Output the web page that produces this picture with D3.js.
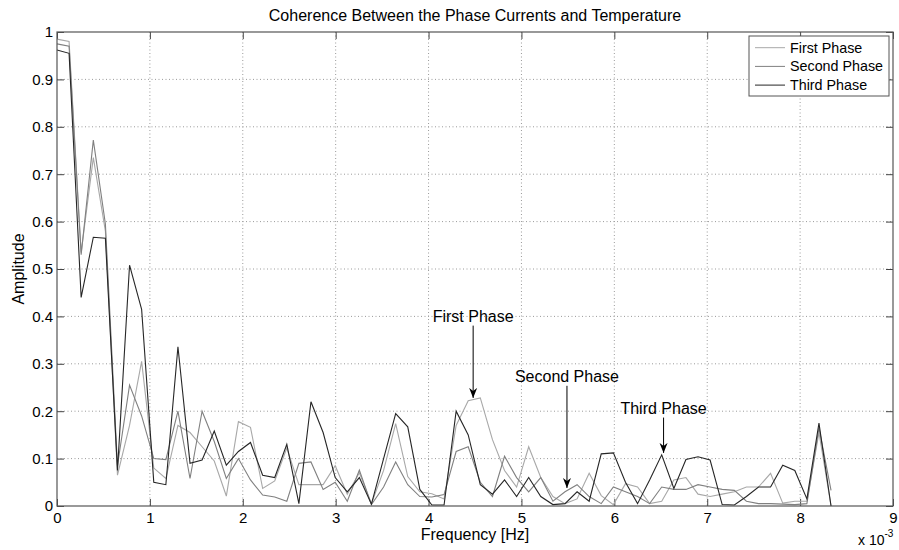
<!DOCTYPE html>
<html>
<head>
<meta charset="utf-8">
<script src="https://cdn.jsdelivr.net/npm/d3@7"></script>
<style>
    body { margin: 0; background: #fff; }
    svg { display: block; font-family: "Liberation Sans", Arial, sans-serif; }
</style>
</head>
<body>
<div id="chart"></div>
<script>
// frequency grid, in units of 1e-3 Hz
const freq = [0, 0.130, 0.260, 0.391, 0.521, 0.651, 0.781, 0.911, 1.042, 1.172,
    1.302, 1.432, 1.562, 1.693, 1.823, 1.953, 2.083, 2.214, 2.344, 2.474,
    2.604, 2.734, 2.865, 2.995, 3.125, 3.255, 3.385, 3.516, 3.646, 3.776,
    3.906, 4.036, 4.167, 4.297, 4.427, 4.557, 4.688, 4.818, 4.948, 5.078,
    5.208, 5.339, 5.469, 5.599, 5.729, 5.859, 5.990, 6.120, 6.250, 6.380,
    6.510, 6.641, 6.771, 6.901, 7.031, 7.161, 7.292, 7.422, 7.552, 7.682,
    7.813, 7.943, 8.073, 8.203, 8.333];

const firstPhase = [0.985, 0.98, 0.535, 0.735, 0.58, 0.065, 0.17, 0.305, 0.08, 0.058,
    0.17, 0.155, 0.125, 0.095, 0.021, 0.178, 0.166, 0.037, 0.053, 0.122,
    0.045, 0.045, 0.045, 0.085, 0.025, 0.07, 0.005, 0.075, 0.174, 0.062,
    0.03, 0.026, 0.015, 0.17, 0.222, 0.228, 0.14, 0.075, 0.04, 0.125,
    0.06, 0.02, 0.005, 0.015, 0.069, 0.022, 0.003, 0.047, 0.04, 0.005,
    0.01, 0.055, 0.06, 0.025, 0.02, 0.025, 0.03, 0.04, 0.04, 0.069,
    0.006, 0.01, 0.01, 0.155, 0.0];

const secondPhase = [0.975, 0.97, 0.53, 0.772, 0.595, 0.085, 0.255, 0.19, 0.1, 0.098,
    0.2, 0.058, 0.2, 0.136, 0.058, 0.1, 0.055, 0.023, 0.019, 0.01,
    0.09, 0.093, 0.035, 0.05, 0.01, 0.076, 0.003, 0.04, 0.093, 0.045,
    0.02, 0.019, 0.024, 0.115, 0.125, 0.05, 0.02, 0.105, 0.06, 0.03,
    0.06, 0.01, 0.03, 0.045, 0.02, 0.005, 0.04, 0.03, 0.02, 0.005,
    0.04, 0.035, 0.035, 0.045, 0.04, 0.035, 0.033, 0.01, 0.005, 0.005,
    0.004, 0.003, 0.005, 0.165, 0.033];

const thirdPhase = [0.962, 0.955, 0.44, 0.567, 0.565, 0.075, 0.508, 0.415, 0.05, 0.045,
    0.336, 0.09, 0.097, 0.158, 0.086, 0.115, 0.134, 0.065, 0.06, 0.13,
    0.005, 0.22, 0.155, 0.06, 0.03, 0.06, 0.004, 0.1, 0.195, 0.167,
    0.035, 0.002, 0.002, 0.2, 0.15, 0.045, 0.025, 0.055, 0.02, 0.06,
    0.02, 0.003, 0.005, 0.03, 0.01, 0.11, 0.112, 0.05, 0.005, 0.055,
    0.108, 0.037, 0.098, 0.104, 0.097, 0.003, 0.002, 0.02, 0.04, 0.04,
    0.086, 0.075, 0.015, 0.175, 0.0];

const seriesNames = ["First Phase", "Second Phase", "Third Phase"];
const xTicks = [0, 1, 2, 3, 4, 5, 6, 7, 8, 9];
const yTicks = [0, 0.1, 0.2, 0.3, 0.4, 0.5, 0.6, 0.7, 0.8, 0.9, 1];

// annotation text position and arrow tip, in data units
const notes = [
    { label: "First Phase", x: 4.48, y: 0.389, tipY: 0.228 },
    { label: "Second Phase", x: 5.49, y: 0.262, tipY: 0.038 },
    { label: "Third Phase", x: 6.53, y: 0.195, tipY: 0.112 }
];

const colors = ["#a8a8a8", "#808080", "#262626"];

const margin = { top: 32, right: 6, bottom: 44, left: 57 };
const width = 899 - margin.left - margin.right;
const height = 550 - margin.top - margin.bottom;

const svgRoot = d3.select("#chart").append("svg")
    .attr("width", 899)
    .attr("height", 550);

const defs = svgRoot.append("defs");
defs.append("marker")
    .attr("id", "arrow")
    .attr("viewBox", "0 0 10 10")
    .attr("refX", 10)
    .attr("refY", 5)
    .attr("markerWidth", 10)
    .attr("markerHeight", 10)
    .attr("markerUnits", "userSpaceOnUse")
    .attr("orient", "auto")
    .append("path")
    .attr("d", "M0,1 L10,5 L0,9 L3,5 Z")
    .attr("fill", "#000");

const svg = svgRoot.append("g")
    .attr("transform", `translate(${margin.left},${margin.top})`);

const x = d3.scaleLinear().domain([0, 9]).range([0, width]);
const y = d3.scaleLinear().domain([0, 1]).range([height, 0]);

// dotted grid
svg.append("g")
    .selectAll("line")
    .data(xTicks.slice(1, -1))
    .enter()
    .append("line")
    .attr("x1", d => x(d)).attr("x2", d => x(d))
    .attr("y1", 0).attr("y2", height)
    .attr("stroke", "#9a9a9a")
    .attr("stroke-dasharray", "1,2.5");

svg.append("g")
    .selectAll("line")
    .data(yTicks.slice(1, -1))
    .enter()
    .append("line")
    .attr("y1", d => y(d)).attr("y2", d => y(d))
    .attr("x1", 0).attr("x2", width)
    .attr("stroke", "#9a9a9a")
    .attr("stroke-dasharray", "1,2.5");

// axes with inward ticks
const tickLen = 7;
const xAxis = svg.append("g")
    .attr("transform", `translate(0,${height})`)
    .call(d3.axisBottom(x).tickValues(xTicks).tickFormat(d3.format("d"))
        .tickSizeInner(-tickLen).tickSizeOuter(0).tickPadding(6));
const xAxisTop = svg.append("g")
    .call(d3.axisTop(x).tickValues(xTicks).tickFormat("")
        .tickSizeInner(-tickLen).tickSizeOuter(0));
const yAxis = svg.append("g")
    .call(d3.axisLeft(y).tickValues(yTicks).tickFormat(d3.format(""))
        .tickSizeInner(-tickLen).tickSizeOuter(0).tickPadding(4));
const yAxisRight = svg.append("g")
    .attr("transform", `translate(${width},0)`)
    .call(d3.axisRight(y).tickValues(yTicks).tickFormat("")
        .tickSizeInner(-tickLen).tickSizeOuter(0));

[xAxis, xAxisTop, yAxis, yAxisRight].forEach(a => {
    a.select(".domain").remove();
    a.selectAll(".tick line").attr("stroke", "#444");
    a.selectAll("text")
        .style("font-size", "15px")
        .style("font-family", "Liberation Sans, Arial, sans-serif")
        .attr("fill", "#000");
});

// series lines
const line = d3.line()
    .x((d, i) => x(freq[i]))
    .y(d => y(d));

[firstPhase, secondPhase, thirdPhase].forEach((s, k) => {
    svg.append("path")
        .datum(s)
        .attr("d", line)
        .attr("fill", "none")
        .attr("stroke", colors[k])
        .attr("stroke-width", 1.1)
        .attr("stroke-linejoin", "miter");
});

// frame
svg.append("rect")
    .attr("width", width)
    .attr("height", height)
    .attr("fill", "none")
    .attr("stroke", "#555")
    .attr("stroke-width", 1.2);

// annotations
notes.forEach(n => {
    svg.append("text")
        .attr("x", x(n.x))
        .attr("y", y(n.y))
        .attr("text-anchor", "middle")
        .style("font-size", "16px")
        .text(n.label);
    svg.append("line")
        .attr("x1", x(n.x)).attr("x2", x(n.x))
        .attr("y1", y(n.y) + 4)
        .attr("y2", y(n.tipY))
        .attr("stroke", "#000")
        .attr("stroke-width", 1)
        .attr("marker-end", "url(#arrow)");
});

// legend
const legend = svgRoot.append("g").attr("transform", "translate(749,36)");
legend.append("rect")
    .attr("width", 140)
    .attr("height", 60)
    .attr("fill", "#fff")
    .attr("stroke", "#555");
seriesNames.forEach((name, k) => {
    const ly = 11.7 + k * 18.7;
    legend.append("line")
        .attr("x1", 6).attr("x2", 36)
        .attr("y1", ly).attr("y2", ly)
        .attr("stroke", colors[k]);
    legend.append("text")
        .attr("x", 41)
        .attr("y", ly)
        .attr("dy", "0.35em")
        .style("font-size", "14.3px")
        .text(name);
});

// titles and labels
svgRoot.append("text")
    .attr("x", margin.left + width / 2)
    .attr("y", 21)
    .attr("text-anchor", "middle")
    .style("font-size", "16px")
    .text("Coherence Between the Phase Currents and Temperature");

svgRoot.append("text")
    .attr("x", margin.left + width / 2)
    .attr("y", 540)
    .attr("text-anchor", "middle")
    .style("font-size", "16px")
    .text("Frequency [Hz]");

svgRoot.append("text")
    .attr("transform", `translate(24,${margin.top + height / 2}) rotate(-90)`)
    .attr("text-anchor", "middle")
    .style("font-size", "16px")
    .text("Amplitude");

const expo = svgRoot.append("text")
    .attr("x", 858)
    .attr("y", 545)
    .style("font-size", "14px");
expo.append("tspan").text("x 10");
expo.append("tspan")
    .attr("dy", -8)
    .style("font-size", "10px")
    .text("-3");
</script>
</body>
</html>
